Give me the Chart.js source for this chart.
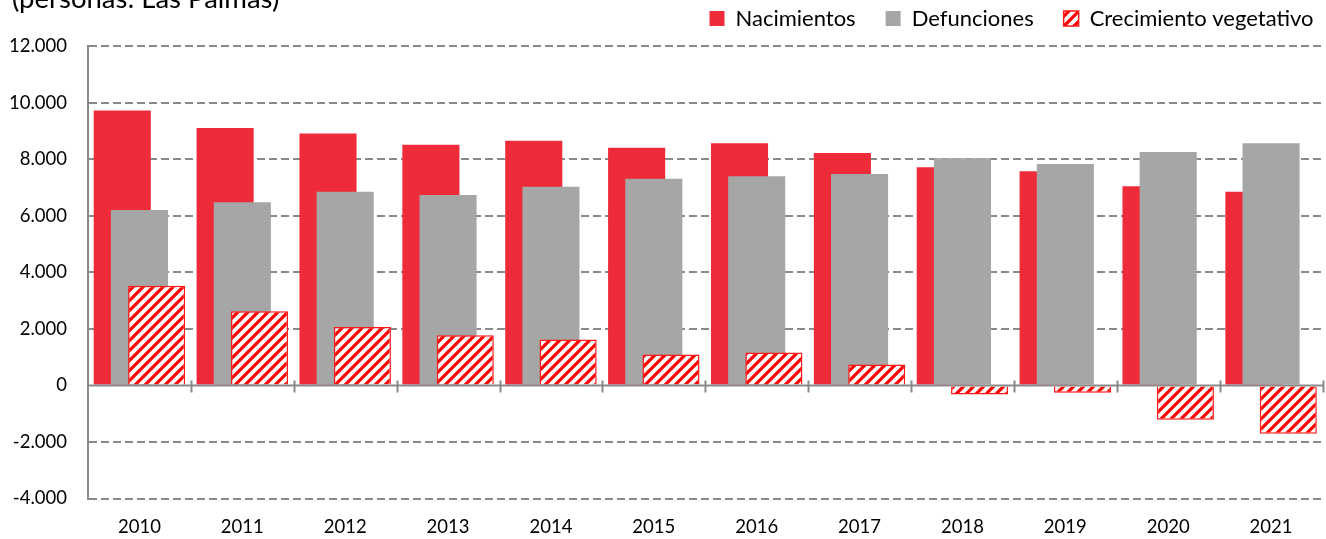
<!DOCTYPE html>
<html>
<head>
<meta charset="utf-8">
<script src="https://cdn.jsdelivr.net/npm/chart.js@4.4.1/dist/chart.umd.min.js"></script>
<style>
html,body{margin:0;padding:0;background:#fff;overflow:hidden}
#wrap{position:relative;width:1326px;height:539px;overflow:hidden}
#title{position:absolute;left:12px;top:-15px;font-family:Lato,sans-serif;font-size:27.5px;line-height:26px;color:#000;white-space:nowrap}
canvas{position:absolute;left:0;top:0}
</style>
</head>
<body>
<div id="wrap">
<canvas id="c" width="1326" height="539"></canvas>
<div id="title">(personas: Las Palmas)</div>
</div>
<script>
// ---- data ----
const years = ['2010','2011','2012','2013','2014','2015','2016','2017','2018','2019','2020','2021'];
const nacimientos = [9720, 9100, 8910, 8510, 8650, 8405, 8560, 8215, 7710, 7570, 7040, 6850];
const defunciones = [6200, 6475, 6850, 6735, 7025, 7310, 7395, 7475, 8030, 7830, 8255, 8560];
const crecimiento = [3520, 2625, 2060, 1775, 1625, 1095, 1165, 740, -320, -260, -1215, -1710];
const yTicks = [-4000, -2000, 0, 2000, 4000, 6000, 8000, 10000, 12000];
const seriesNames = ['Nacimientos', 'Defunciones', 'Crecimiento vegetativo'];

function fmt(v){
  const s = String(Math.abs(v)).replace(/\B(?=(\d{3})+(?!\d))/g, '.');
  return (v < 0 ? '-' : '') + s;
}

function hatchPattern(){
  const s = 10;
  const c = document.createElement('canvas');
  c.width = s; c.height = s;
  const g = c.getContext('2d');
  g.fillStyle = '#ffffff'; g.fillRect(0,0,s,s);
  g.strokeStyle = '#ff0000'; g.lineWidth = 3.2;
  g.beginPath();
  g.moveTo(-s, s*2); g.lineTo(s*2, -s);
  g.moveTo(-s, s); g.lineTo(s, -s);
  g.moveTo(0, s*2); g.lineTo(s*2, 0);
  g.stroke();
  return g.createPattern(c, 'repeat');
}

Chart.defaults.font.family = 'Lato, sans-serif';
Chart.defaults.color = '#000';

const GRID = '#8a8a8a';

// shift overlapping bars sideways by a fraction of the category width
const shiftBars = {
  id: 'shiftBars',
  afterDatasetsUpdate(chart){
    const x = chart.scales.x;
    const n = years.length;
    const w = (x.getPixelForValue(n-1) - x.getPixelForValue(0)) / (n-1);
    chart.data.datasets.forEach((ds, i) => {
      const meta = chart.getDatasetMeta(i);
      meta.data.forEach(el => { el.x += (ds.shift || 0) * w; });
    });
  }
};

// zero axis line with crossing tick marks at category boundaries
const zeroAxis = {
  id: 'zeroAxis',
  afterDatasetsDraw(chart){
    const {ctx, chartArea: a, scales: {x, y}} = chart;
    const y0 = Math.round(y.getPixelForValue(0)) + 0.5;
    const n = years.length;
    const w = (x.getPixelForValue(n-1) - x.getPixelForValue(0)) / (n-1);
    ctx.save();
    ctx.strokeStyle = GRID; ctx.lineWidth = 2;
    ctx.beginPath();
    ctx.moveTo(a.left, y0); ctx.lineTo(a.right, y0);
    for (let i = 0; i < n; i++){
      const px = Math.round(x.getPixelForValue(i) + w/2) + 0.5;
      ctx.moveTo(px, y0 - 5); ctx.lineTo(px, y0 + 7);
    }
    ctx.stroke();
    ctx.restore();
  }
};

new Chart(document.getElementById('c'), {
  type: 'bar',
  data: {
    labels: years,
    datasets: [
      { label: seriesNames[0], data: nacimientos, backgroundColor: '#ee2b39', borderWidth: 0,
        grouped: false, order: 2, shift: -0.167 },
      { label: seriesNames[1], data: defunciones, backgroundColor: '#a6a6a6', borderWidth: 0,
        grouped: false, order: 1, shift: 0 },
      { label: seriesNames[2], data: crecimiento, backgroundColor: hatchPattern(), borderColor: '#ff1a1a',
        borderWidth: 1.5, grouped: false, order: 0, shift: 0.167 }
    ]
  },
  options: {
    responsive: false,
    animation: false,
    devicePixelRatio: 1,
    layout: { padding: { top: -22.5, right: -17.5, left: 0, bottom: 0 } },
    datasets: { bar: { categoryPercentage: 1, barPercentage: 0.555 } },
    plugins: {
      legend: {
        position: 'top', align: 'end',
        labels: {
          boxWidth: 15, boxHeight: 15, padding: 30, color: '#000',
          font: { size: 22 },
          sort: (a, b) => a.datasetIndex - b.datasetIndex
        }
      },
      tooltip: { enabled: false },
      title: { display: false }
    },
    scales: {
      x: {
        type: 'category', position: 'bottom',
        grid: { display: false }, border: { display: false },
        ticks: { color: '#000', font: { size: 18.5 }, padding: 9, maxRotation: 0 },
        afterFit: s => { s.height = 40.5; }
      },
      xT: {
        type: 'category', position: 'top', display: true,
        grid: { display: false }, border: { display: false },
        ticks: { display: false },
        afterFit: s => { s.height = 6.5; }
      },
      y: {
        min: -4000, max: 12000, position: 'left',
        afterBuildTicks: s => { s.ticks = yTicks.map(v => ({ value: v })); },
        ticks: { callback: v => fmt(v), color: '#000', font: { size: 18.5 }, padding: 21 },
        grid: {
          color: c => (c.tick && c.tick.value === 0) ? 'rgba(0,0,0,0)' : GRID,
          lineWidth: 2, drawTicks: false
        },
        border: { display: true, color: GRID, width: 2, dash: [8, 4] },
        afterFit: s => { s.width = 88; }
      },
      yR: {
        type: 'linear', position: 'right', display: true,
        grid: { display: false }, border: { display: false },
        ticks: { display: false },
        afterFit: s => { s.width = 21; }
      }
    }
  },
  plugins: [shiftBars, zeroAxis]
});
</script>
</body>
</html>
